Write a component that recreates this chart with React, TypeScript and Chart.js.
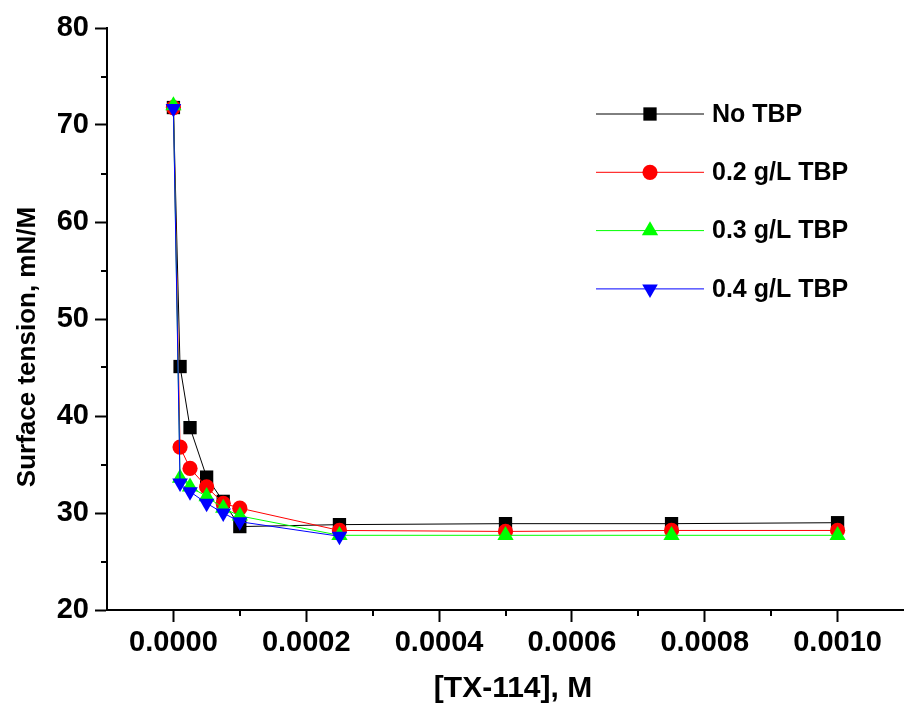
import React, { useEffect, useRef } from 'react';
import { Chart, registerables } from 'chart.js';
import { drawPoint } from 'chart.js/helpers';

Chart.register(...registerables);

// [TX-114] concentration, M
const concentrations = [0, 0.00001, 0.000025, 0.00005, 0.000075, 0.0001, 0.00025, 0.0005, 0.00075, 0.001];
// Surface tension, mN/M
const noTBP = [71.8, 45.1, 38.8, 33.7, 31.2, 28.6, 28.8, 28.9, 28.9, 29.0];
const tbp02 = [71.8, 36.8, 34.6, 32.7, 31.0, 30.5, 28.2, 28.1, 28.2, 28.2];
const tbp03 = [72.0, 33.6, 32.7, 31.7, 30.5, 29.7, 27.7, 27.7, 27.7, 27.7];
const tbp04 = [71.7, 33.1, 32.2, 31.0, 30.0, 29.1, 27.6];

const seriesLabels = ['No TBP', '0.2 g/L TBP', '0.3 g/L TBP', '0.4 g/L TBP'];
const seriesColors = ['#000000', '#ff0000', '#00ff00', '#0000ff'];

const xMajorTicks = [0, 0.0002, 0.0004, 0.0006, 0.0008, 0.001];
const xMinorTicks = [0.0001, 0.0003, 0.0005, 0.0007, 0.0009];
const yMajorTicks = [20, 30, 40, 50, 60, 70, 80];
const yMinorTicks = [25, 35, 45, 55, 65, 75];

const xTitle = '[TX-114], M';
const yTitle = 'Surface tension, mN/M';

const FONT = '"Liberation Sans", Arial, sans-serif';

const toPoints = (ys: number[]) => ys.map((y, i) => ({ x: concentrations[i], y }));

const markerStyles = [
  { pointStyle: 'rect', radius: 9.4, rotation: 0 },
  { pointStyle: 'circle', radius: 7.6, rotation: 0 },
  { pointStyle: 'triangle', radius: 9.4, rotation: 0 },
  { pointStyle: 'triangle', radius: 9.0, rotation: 180 },
];

const decorPlugin = {
  id: 'decor',
  afterDraw(chart: any) {
    const ctx = chart.ctx as CanvasRenderingContext2D;
    const ca = chart.chartArea;
    const xs = chart.scales.x;
    const ys = chart.scales.y;
    ctx.save();
    // minor ticks
    ctx.strokeStyle = '#000';
    ctx.lineWidth = 2;
    ctx.beginPath();
    yMinorTicks.forEach((v) => {
      const py = Math.round(ys.getPixelForValue(v));
      ctx.moveTo(ca.left - 6, py);
      ctx.lineTo(ca.left, py);
    });
    xMinorTicks.forEach((v) => {
      const px = Math.round(xs.getPixelForValue(v));
      ctx.moveTo(px, ca.bottom);
      ctx.lineTo(px, ca.bottom + 6);
    });
    ctx.stroke();

    // axis titles
    ctx.fillStyle = '#000';
    ctx.textAlign = 'center';
    ctx.textBaseline = 'middle';
    ctx.font = `bold 30px ${FONT}`;
    ctx.fillText(xTitle, ca.left + 406, ca.bottom + 79);
    ctx.save();
    ctx.translate(ca.left - 79, (ca.top + ca.bottom) / 2 + 28);
    ctx.rotate(-Math.PI / 2);
    ctx.font = `bold 26px ${FONT}`;
    ctx.fillText(yTitle, 0, 0);
    ctx.restore();

    // legend
    ctx.font = `bold 25px ${FONT}`;
    ctx.textAlign = 'left';
    chart.data.datasets.forEach((ds: any, i: number) => {
      const y = ca.top + 86 + i * 58.3;
      ctx.strokeStyle = ds.borderColor;
      ctx.lineWidth = 1;
      ctx.beginPath();
      ctx.moveTo(ca.left + 489, y);
      ctx.lineTo(ca.left + 597, y);
      ctx.stroke();
      ctx.fillStyle = ds.backgroundColor;
      ctx.strokeStyle = ds.borderColor;
      drawPoint(ctx, {
        pointStyle: ds.pointStyle,
        radius: ds.pointRadius,
        rotation: ds.pointRotation,
        borderWidth: 0,
      } as any, ca.left + 543, y);
      ctx.fillStyle = '#000';
      ctx.fillText(ds.label, ca.left + 605, y + 1);
    });
    ctx.restore();
  },
};

export default function App() {
  const ref = useRef<HTMLCanvasElement>(null);
  useEffect(() => {
    const allSeries = [noTBP, tbp02, tbp03, tbp04];
    const datasets = allSeries.map((s, i) => ({
      label: seriesLabels[i],
      data: toPoints(s),
      borderColor: seriesColors[i],
      backgroundColor: seriesColors[i],
      borderWidth: 1,
      pointStyle: markerStyles[i].pointStyle,
      pointRadius: markerStyles[i].radius,
      pointRotation: markerStyles[i].rotation,
      pointBorderWidth: 0,
      pointHoverRadius: markerStyles[i].radius,
      tension: 0,
      order: 4 - i,
      clip: false as any,
    }));
    const tickFont = { family: FONT, size: 29, weight: 'bold' as const };
    const chart = new Chart(ref.current as HTMLCanvasElement, {
      type: 'line',
      data: { datasets },
      plugins: [decorPlugin],
      options: {
        animation: false,
        responsive: false,
        maintainAspectRatio: false,
        layout: { autoPadding: false, padding: { top: 28, right: 0, bottom: 0, left: 0 } },
        plugins: {
          legend: { display: false },
          tooltip: { enabled: false },
        },
        events: [],
        scales: {
          x: {
            type: 'linear',
            min: -0.0001,
            max: 0.0011,
            afterBuildTicks: (s: any) => {
              s.ticks = xMajorTicks.map((v) => ({ value: v }));
            },
            afterFit: (s: any) => {
              s.height = 96;
              s.paddingRight = 0;
              s.paddingLeft = 0;
            },
            ticks: {
              callback: (v: any) => Number(v).toFixed(4),
              font: tickFont,
              color: '#000',
              padding: 4,
              maxRotation: 0,
              autoSkip: false,
            },
            grid: { drawOnChartArea: false, tickLength: 12, tickWidth: 2, tickColor: '#000' },
            border: { color: '#000', width: 2 },
          },
          y: {
            type: 'linear',
            min: 20,
            max: 80,
            afterBuildTicks: (s: any) => {
              s.ticks = yMajorTicks.map((v) => ({ value: v }));
            },
            afterFit: (s: any) => {
              s.width = 107;
            },
            ticks: {
              font: tickFont,
              color: '#000',
              padding: 6,
              autoSkip: false,
            },
            grid: { drawOnChartArea: false, tickLength: 12, tickWidth: 2, tickColor: '#000' },
            border: { color: '#000', width: 2 },
          },
        },
      },
    } as any);
    return () => chart.destroy();
  }, []);
  return (
    <div style={{ position: 'absolute', left: 0, top: 0, width: 904, height: 706, background: '#fff' }}>
      <canvas ref={ref} width={904} height={706} style={{ display: 'block', width: 904, height: 706 }} />
    </div>
  );
}
